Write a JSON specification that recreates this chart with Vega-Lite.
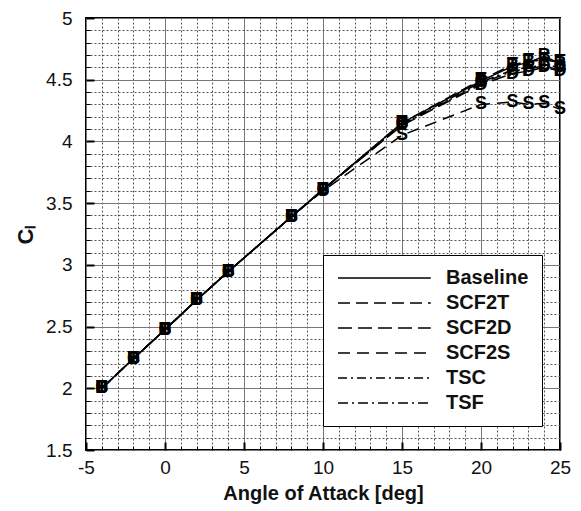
{
  "$schema": "https://vega.github.io/schema/vega-lite/v6.json",
  "width": 474,
  "height": 432,
  "autosize": {"type": "none"},
  "padding": {"left": 86, "top": 18, "right": 21, "bottom": 61},
  "background": "white",
  "config": {
    "view": {"stroke": "black", "strokeWidth": 2},
    "font": "Liberation Sans"
  },
  "data": {
    "values": [
      {"series": "Baseline", "m": "B", "aoa": -4, "cl": 2.0},
      {"series": "Baseline", "m": "B", "aoa": -2, "cl": 2.24},
      {"series": "Baseline", "m": "B", "aoa": 0, "cl": 2.475},
      {"series": "Baseline", "m": "B", "aoa": 2, "cl": 2.715},
      {"series": "Baseline", "m": "B", "aoa": 4, "cl": 2.945},
      {"series": "Baseline", "m": "B", "aoa": 8, "cl": 3.39},
      {"series": "Baseline", "m": "B", "aoa": 10, "cl": 3.61},
      {"series": "Baseline", "m": "B", "aoa": 15, "cl": 4.15},
      {"series": "Baseline", "m": "B", "aoa": 20, "cl": 4.49},
      {"series": "Baseline", "m": "B", "aoa": 22, "cl": 4.61},
      {"series": "Baseline", "m": "B", "aoa": 23, "cl": 4.64},
      {"series": "Baseline", "m": "B", "aoa": 24, "cl": 4.69},
      {"series": "Baseline", "m": "B", "aoa": 25, "cl": 4.63},
      {"series": "SCF2T", "m": "T", "aoa": -4, "cl": 2.0},
      {"series": "SCF2T", "m": "T", "aoa": -2, "cl": 2.24},
      {"series": "SCF2T", "m": "T", "aoa": 0, "cl": 2.475},
      {"series": "SCF2T", "m": "T", "aoa": 2, "cl": 2.715},
      {"series": "SCF2T", "m": "T", "aoa": 4, "cl": 2.945},
      {"series": "SCF2T", "m": "T", "aoa": 8, "cl": 3.39},
      {"series": "SCF2T", "m": "T", "aoa": 10, "cl": 3.61},
      {"series": "SCF2T", "m": "T", "aoa": 15, "cl": 4.15},
      {"series": "SCF2T", "m": "T", "aoa": 20, "cl": 4.5},
      {"series": "SCF2T", "m": "T", "aoa": 22, "cl": 4.62},
      {"series": "SCF2T", "m": "T", "aoa": 23, "cl": 4.65},
      {"series": "SCF2T", "m": "T", "aoa": 24, "cl": 4.66},
      {"series": "SCF2T", "m": "T", "aoa": 25, "cl": 4.64},
      {"series": "SCF2D", "m": "D", "aoa": -4, "cl": 2.0},
      {"series": "SCF2D", "m": "D", "aoa": -2, "cl": 2.24},
      {"series": "SCF2D", "m": "D", "aoa": 0, "cl": 2.475},
      {"series": "SCF2D", "m": "D", "aoa": 2, "cl": 2.715},
      {"series": "SCF2D", "m": "D", "aoa": 4, "cl": 2.945},
      {"series": "SCF2D", "m": "D", "aoa": 8, "cl": 3.39},
      {"series": "SCF2D", "m": "D", "aoa": 10, "cl": 3.61},
      {"series": "SCF2D", "m": "D", "aoa": 15, "cl": 4.13},
      {"series": "SCF2D", "m": "D", "aoa": 20, "cl": 4.46},
      {"series": "SCF2D", "m": "D", "aoa": 22, "cl": 4.55},
      {"series": "SCF2D", "m": "D", "aoa": 23, "cl": 4.57},
      {"series": "SCF2D", "m": "D", "aoa": 24, "cl": 4.6},
      {"series": "SCF2D", "m": "D", "aoa": 25, "cl": 4.57},
      {"series": "SCF2S", "m": "S", "aoa": -4, "cl": 2.0},
      {"series": "SCF2S", "m": "S", "aoa": -2, "cl": 2.24},
      {"series": "SCF2S", "m": "S", "aoa": 0, "cl": 2.475},
      {"series": "SCF2S", "m": "S", "aoa": 2, "cl": 2.715},
      {"series": "SCF2S", "m": "S", "aoa": 4, "cl": 2.945},
      {"series": "SCF2S", "m": "S", "aoa": 8, "cl": 3.39},
      {"series": "SCF2S", "m": "S", "aoa": 10, "cl": 3.6},
      {"series": "SCF2S", "m": "S", "aoa": 15, "cl": 4.05},
      {"series": "SCF2S", "m": "S", "aoa": 20, "cl": 4.3},
      {"series": "SCF2S", "m": "S", "aoa": 22, "cl": 4.32},
      {"series": "SCF2S", "m": "S", "aoa": 23, "cl": 4.3},
      {"series": "SCF2S", "m": "S", "aoa": 24, "cl": 4.31},
      {"series": "SCF2S", "m": "S", "aoa": 25, "cl": 4.26},
      {"series": "TSC", "m": "C", "aoa": -4, "cl": 2.0},
      {"series": "TSC", "m": "C", "aoa": -2, "cl": 2.24},
      {"series": "TSC", "m": "C", "aoa": 0, "cl": 2.475},
      {"series": "TSC", "m": "C", "aoa": 2, "cl": 2.715},
      {"series": "TSC", "m": "C", "aoa": 4, "cl": 2.945},
      {"series": "TSC", "m": "C", "aoa": 8, "cl": 3.39},
      {"series": "TSC", "m": "C", "aoa": 10, "cl": 3.61},
      {"series": "TSC", "m": "C", "aoa": 15, "cl": 4.14},
      {"series": "TSC", "m": "C", "aoa": 20, "cl": 4.48},
      {"series": "TSC", "m": "C", "aoa": 22, "cl": 4.58},
      {"series": "TSC", "m": "C", "aoa": 23, "cl": 4.6},
      {"series": "TSC", "m": "C", "aoa": 24, "cl": 4.62},
      {"series": "TSC", "m": "C", "aoa": 25, "cl": 4.6},
      {"series": "TSF", "m": "F", "aoa": -4, "cl": 2.0},
      {"series": "TSF", "m": "F", "aoa": -2, "cl": 2.24},
      {"series": "TSF", "m": "F", "aoa": 0, "cl": 2.475},
      {"series": "TSF", "m": "F", "aoa": 2, "cl": 2.715},
      {"series": "TSF", "m": "F", "aoa": 4, "cl": 2.945},
      {"series": "TSF", "m": "F", "aoa": 8, "cl": 3.39},
      {"series": "TSF", "m": "F", "aoa": 10, "cl": 3.61},
      {"series": "TSF", "m": "F", "aoa": 15, "cl": 4.135},
      {"series": "TSF", "m": "F", "aoa": 20, "cl": 4.47},
      {"series": "TSF", "m": "F", "aoa": 22, "cl": 4.57},
      {"series": "TSF", "m": "F", "aoa": 23, "cl": 4.59},
      {"series": "TSF", "m": "F", "aoa": 24, "cl": 4.61},
      {"series": "TSF", "m": "F", "aoa": 25, "cl": 4.58}
    ]
  },
  "resolve": {"axis": {"x": "independent", "y": "independent"}},
  "layer": [
    {
      "mark": {"type": "text", "opacity": 0, "text": ""},
      "encoding": {
        "x": {
          "field": "aoa", "type": "quantitative",
          "scale": {"domain": [-5, 25], "nice": false, "zero": false},
          "axis": {
            "orient": "bottom", "title": null, "labels": false, "domain": false,
            "values": [-4,-3,-2,-1,1,2,3,4,6,7,8,9,11,12,13,14,16,17,18,19,21,22,23,24],
            "grid": true, "gridColor": "#555555", "gridDash": [2, 2], "gridWidth": 1,
            "ticks": true, "tickColor": "black", "tickWidth": 1, "tickSize": -4
          }
        },
        "y": {
          "field": "cl", "type": "quantitative",
          "scale": {"domain": [1.5, 5], "nice": false, "zero": false},
          "axis": {
            "orient": "left", "title": null, "labels": false, "domain": false,
            "values": [1.6,1.7,1.8,1.9,2.1,2.2,2.3,2.4,2.6,2.7,2.8,2.9,3.1,3.2,3.3,3.4,3.6,3.7,3.8,3.9,4.1,4.2,4.3,4.4,4.6,4.7,4.8,4.9],
            "grid": true, "gridColor": "#555555", "gridDash": [2, 2], "gridWidth": 1,
            "ticks": true, "tickColor": "black", "tickWidth": 1, "tickSize": -4
          }
        }
      }
    },
    {
      "mark": {"type": "line", "color": "black", "strokeWidth": 1.5},
      "encoding": {
        "x": {
          "field": "aoa", "type": "quantitative",
          "scale": {"domain": [-5, 25], "nice": false, "zero": false},
          "axis": {
            "orient": "bottom",
            "title": "Angle of Attack [deg]",
            "titleFontSize": 20, "titleFontWeight": "bold", "titleColor": "#111", "titlePadding": 6,
            "values": [-5, 0, 5, 10, 15, 20, 25],
            "labelExpr": "'' + datum.value",
            "labelFontSize": 19, "labelColor": "#111", "labelFlush": false, "labelPadding": 16,
            "domain": false,
            "grid": true, "gridColor": "#777777", "gridWidth": 1,
            "ticks": true, "tickColor": "black", "tickWidth": 2, "tickSize": -8
          }
        },
        "y": {
          "field": "cl", "type": "quantitative",
          "scale": {"domain": [1.5, 5], "nice": false, "zero": false},
          "axis": {
            "orient": "left",
            "title": "Cₗ",
            "titleFontSize": 22, "titleFontWeight": "bold", "titleColor": "#111", "titlePadding": 8,
            "values": [1.5, 2, 2.5, 3, 3.5, 4, 4.5, 5],
            "labelExpr": "'' + datum.value",
            "labelFontSize": 19, "labelColor": "#111", "labelFlush": false, "labelPadding": 22,
            "domain": false,
            "grid": true, "gridColor": "#777777", "gridWidth": 1,
            "ticks": true, "tickColor": "black", "tickWidth": 2, "tickSize": -8
          }
        },
        "strokeDash": {
          "field": "series",
          "type": "nominal",
          "scale": {
            "domain": ["Baseline", "SCF2T", "SCF2D", "SCF2S", "TSC", "TSF"],
            "range": [[1, 0], [12, 6], [14, 6], [12, 7], [9, 4, 2, 4], [10, 4, 2, 4]]
          },
          "legend": {
            "title": null,
            "orient": "none",
            "legendX": 237,
            "legendY": 237,
            "fillColor": "white",
            "strokeColor": "black",
            "padding": 13,
            "rowPadding": 5,
            "labelFontSize": 20,
            "labelFontWeight": "bold",
            "labelColor": "#111",
            "labelOffset": 90,
            "labelLimit": 200,
            "symbolType": "M-1,0H10.6",
            "symbolSize": 256,
            "symbolStrokeWidth": 1.5,
            "symbolStrokeColor": "black"
          }
        }
      }
    },
    {
      "mark": {"type": "text", "fontWeight": "bold", "fontSize": 18, "color": "black", "baseline": "middle", "align": "center"},
      "encoding": {
        "x": {"field": "aoa", "type": "quantitative", "axis": null},
        "y": {"field": "cl", "type": "quantitative", "axis": null},
        "text": {"field": "m", "type": "nominal"}
      }
    }
  ]
}
